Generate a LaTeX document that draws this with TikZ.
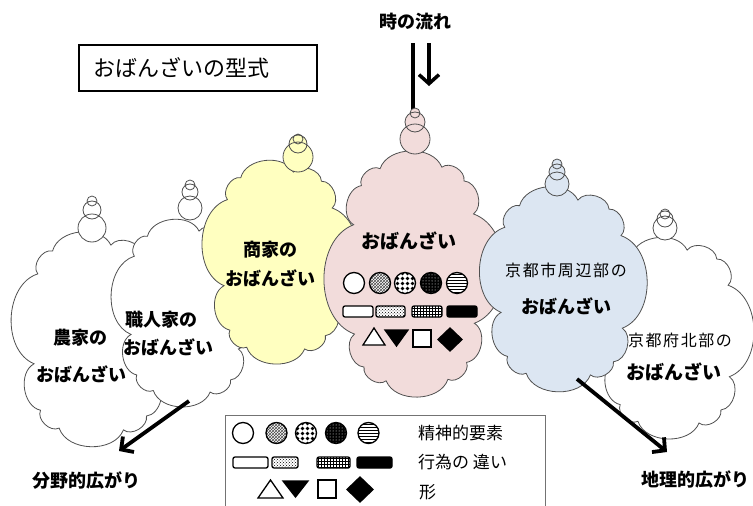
\documentclass[tikz,border=0pt]{standalone}
\usepackage{fontspec}
\setmainfont{Noto Sans CJK JP}
\usetikzlibrary{shapes.geometric,arrows.meta,patterns}
\definecolor{cyel}{HTML}{FFFFC0}
\definecolor{cpink}{HTML}{F2DCDB}
\definecolor{cblue}{HTML}{DCE6F2}
\definecolor{cedge}{HTML}{505050}
\pgfdeclarepatternformonly{bigdots}{\pgfqpoint{-1pt}{-1pt}}{\pgfqpoint{6pt}{6pt}}{\pgfqpoint{5pt}{5pt}}{%
  \pgfpathcircle{\pgfqpoint{2.5pt}{2.5pt}}{1.9pt}\pgfusepath{fill}}
\newcommand\obbub[8]{%
  \fill[#8] (#1,#2) circle[radius=#3] (#1,#4) circle[radius=#5] (#1,#6) circle[radius=#7];
  \draw[bub] (#1,#2) circle[radius=#3] (#1,#4) circle[radius=#5] (#1,#6) circle[radius=#7];}
% cloud: name, cx, cy, a, b, puffs, fill
\newcommand\obcloud[7]{%
  \foreach \k in {0,...,#6} {
    \pgfmathsetmacro\th{360*\k/#6 + 12}
    \pgfmathsetmacro\cs{cos(\th)}
    \pgfmathsetmacro\sn{sin(\th)}
    \pgfmathsetmacro\px{#2 + #4*sign(\cs)*abs(\cs)^0.5}
    \pgfmathsetmacro\py{#3 + #5*sign(\sn)*abs(\sn)^0.5}
    \coordinate (#1-\k) at (\px,\py);
  }
  \draw[cloudline, fill=#7] (#1-0) \foreach \k in {1,...,#6} { to[bend left=70] (#1-\k) } -- cycle;
}
\tikzset{
  cloudline/.style={draw=cedge, line width=0.8pt},
  bub/.style={draw=cedge, line width=0.8pt},
  lbl/.style={font=\fontsize{18}{20}\selectfont\bfseries, inner sep=0pt},
  lblr/.style={font=\fontsize{16}{18}\selectfont\addfontfeature{LetterSpace=10}, inner sep=0pt},
  lgd/.style={font=\fontsize{17}{19}\selectfont, inner sep=0pt, anchor=west},
  symc/.style={circle, draw=black, line width=1.3pt, minimum size=21pt, inner sep=0pt},
  symr/.style={rectangle, rounded corners=2pt, draw=black, line width=1.3pt, minimum height=11pt, inner sep=0pt},
  sym/.style={draw=black, line width=1.3pt, line join=miter},
  pA/.style={fill=white},
  pB/.style={preaction={fill=white}, pattern=crosshatch, pattern color=black!70},
  pC/.style={preaction={fill=white}, pattern=bigdots},
  pD/.style={preaction={fill=black}, pattern=dots, pattern color=white},
  pE/.style={preaction={fill=white}, pattern=horizontal lines},
  rB/.style={preaction={fill=white}, pattern=crosshatch dots},
  rC/.style={preaction={fill=white}, pattern=grid},
  rD/.style={fill=black},
  bigarrow/.style={line width=3.8pt, -{Straight Barb[length=9pt,width=19pt]}},
}
\begin{document}
\begin{tikzpicture}[x=1pt,y=-1pt]
\useasboundingbox (0,0) rectangle (753,506);
% time line
\coordinate (tl0) at (413,43);
\coordinate (tl1) at (413,168);
\draw[line width=3.5pt] (tl0) -- (tl1);
% clouds
\obcloud{nouka}{95}{338}{61}{93}{11}{white}
\obbub{92}{228}{14}{210}{9}{201}{5}{white}
\obcloud{shoku}{185}{312}{54}{81}{11}{white}
\obbub{190}{208}{12}{192}{8}{185}{5}{white}
\obcloud{shoka}{279}{261}{55}{89}{11}{cyel}
\obbub{298}{157}{15}{144}{9}{139}{5}{cyel}
\obcloud{naka}{414}{274}{61}{108}{12}{cpink}
\obbub{415}{139}{15}{122}{10}{113}{5}{cpink}
\obcloud{hokubu}{672}{337}{58}{87}{11}{white}
\obbub{665}{228}{12}{219}{8}{214}{5}{white}
\obcloud{shuhen}{562}{288}{61}{88}{11}{cblue}
\obbub{557}{184}{12}{172}{8}{164}{5}{cblue}
% cloud texts
\node[lbl] (t1a) at (80,338) {農家の};
\node[lbl] (t1b) at (81,374) {おばんざい};
\node[lbl] (t2a) at (161,320) {職人家の};
\node[lbl] (t2b) at (168,347) {おばんざい};
\node[lbl] (t3a) at (270,250) {商家の};
\node[lbl] (t3b) at (270,278) {おばんざい};
\node[lbl, font=\fontsize{19}{21}\selectfont\bfseries] (t4) at (409,241) {おばんざい};
\node[lblr] (t5a) at (566,270) {京都市周辺部の};
\node[lbl] (t5b) at (566,306) {おばんざい};
\node[lblr] (t6a) at (680,340) {京都府北部の};
\node[lbl, font=\fontsize{19}{21}\selectfont\bfseries] (t6b) at (674,372) {おばんざい};
% symbols in center cloud
\node[symc, pA] (pc1) at (354,283) {};
\node[symc, pB] (pc2) at (380,283) {};
\node[symc, pC] (pc3) at (405,283) {};
\node[symc, pD] (pc4) at (431,283) {};
\node[symc, pE] (pc5) at (457,283) {};
\node[symr, pA, minimum width=30pt] (pr1) at (358,311.5) {};
\node[symr, rB, minimum width=29pt] (pr2) at (390.5,311.5) {};
\node[symr, rC, minimum width=30pt] (pr3) at (427,311.5) {};
\node[symr, rD, minimum width=30pt] (pr4) at (462,311.5) {};
\draw[sym, fill=white] (374,328) -- (385,345) -- (363,345) -- cycle;
\draw[sym, fill=black] (385,330) -- (408,330) -- (396.5,346) -- cycle;
\draw[sym, fill=white] (413,330) rectangle (431,347);
\draw[sym, fill=black] (450,328) -- (462,339.5) -- (450,351) -- (438,339.5) -- cycle;
% arrows
\coordinate (la0) at (189,401);
\coordinate (la1) at (119,451);
\draw[bigarrow] (la0) -- (la1);
\coordinate (ra0) at (577,379);
\coordinate (ra1) at (667,452);
\draw[bigarrow] (ra0) -- (ra1);
\coordinate (da0) at (429,43);
\coordinate (da1) at (429,86);
\draw[line width=3.5pt, -{Straight Barb[length=9pt,width=20pt]}] (da0) -- (da1);
% headings
\node[lbl] (time) at (415,22) {時の流れ};
\node[lbl] (bunya) at (86,481) {分野的広がり};
\node[lbl] (chiri) at (695,479) {地理的広がり};
\node[draw=black, line width=1.3pt, minimum width=238pt, minimum height=46pt, inner sep=0pt] (title) at (198,68) {};
\node[font=\fontsize{22}{24}\selectfont, inner sep=0pt, anchor=west] (titlet) at (93,68) {おばんざいの型式};
% legend
\node[draw=black!55, line width=1pt, minimum width=320pt, minimum height=110pt, anchor=north west, inner sep=0pt] (legend) at (225,415) {};
\node[symc, pA] (lc1) at (243,433) {};
\node[symc, pB] (lc2) at (276.5,433) {};
\node[symc, pC] (lc3) at (306,433) {};
\node[symc, pD] (lc4) at (336,433) {};
\node[symc, pE] (lc5) at (368.5,433) {};
\node[symr, pA, minimum width=35pt] (lr1) at (250.5,462.5) {};
\node[symr, rB, minimum width=26pt] (lr2) at (285,462.5) {};
\node[symr, rC, minimum width=33pt] (lr3) at (333.5,462.5) {};
\node[symr, rD, minimum width=35pt] (lr4) at (374.5,462.5) {};
\draw[sym, fill=white] (270.5,480) -- (283,498) -- (258,498) -- cycle;
\draw[sym, fill=black] (283,481) -- (308,481) -- (295.5,497) -- cycle;
\draw[sym, fill=white] (318,480) rectangle (336,498);
\draw[sym, fill=black] (360,477) -- (373,489.5) -- (360,502) -- (347,489.5) -- cycle;
\node[lgd] (lt1) at (418,433) {精神的要素};
\node[lgd] (lt2) at (418,462) {行為の 違い};
\node[lgd] (lt3) at (419,492) {形};
\end{tikzpicture}
\end{document}
